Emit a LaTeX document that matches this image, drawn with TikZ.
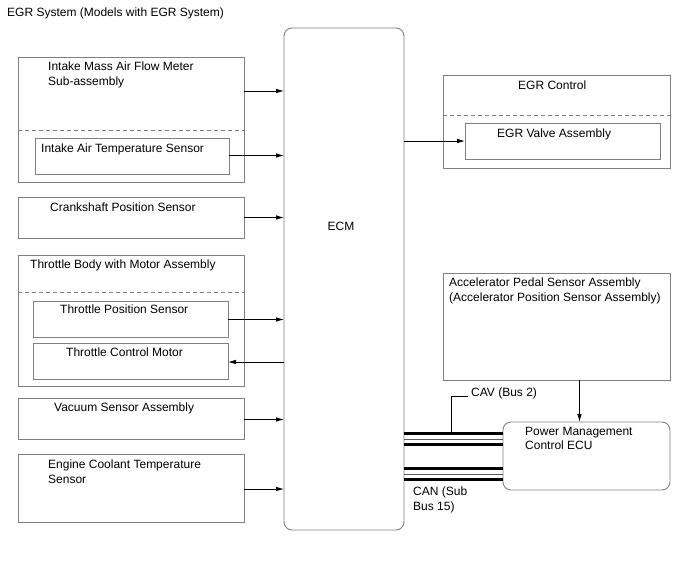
\documentclass[tikz,border=0pt]{standalone}
\usepackage{fontspec}
\setmainfont{Liberation Sans}
\usetikzlibrary{arrows.meta,positioning}
\definecolor{boxgray}{RGB}{128,128,128}
\definecolor{dashgray}{RGB}{125,125,125}
\definecolor{busgray}{RGB}{90,90,90}

\tikzset{
  box/.style={rectangle, draw=boxgray, line width=0.9pt, anchor=north west,
              inner sep=0pt, outer sep=0pt},
  rbox/.style={box, rounded corners=8pt},
  lbl/.style={anchor=north west, inner sep=0pt, align=left},
  sepline/.style={draw=dashgray, line width=0.9pt, dash pattern=on 4pt off 3pt},
  sig/.style={-{Latex[length=8pt,width=4.5pt]}, line width=0.8pt, black},
  busthick/.style={line width=3.4pt, black},
  busthin/.style={line width=1pt, busgray}
}

\begin{document}
\begin{tikzpicture}[x=1pt, y=-1pt, font=\fontsize{12}{14.2}\selectfont]
  \useasboundingbox (0,0) rectangle (688,560);

  \node[lbl] (title) at (7,8) {EGR System (Models with EGR System)};

  % ECM
  \node[rbox, minimum width=120, minimum height=502] (ecm) at (284,28) {};
  \node (ecmlbl) at (341,226) {ECM};

  % inputs on the left
  \node[box, minimum width=226, minimum height=125] (maf) at (18,57) {};
  \node[lbl] (maflbl) at (48,62) {Intake Mass Air Flow Meter\\Sub-assembly};
  \draw[sepline] (maf.west |- 0,130) -- (maf.east |- 0,130);
  \node[box, minimum width=194, minimum height=36] (iat) at (35,138) {};
  \node[lbl] (iatlbl) at (41,144) {Intake Air Temperature Sensor};

  \node[box, minimum width=226, minimum height=41] (ckp) at (18,197) {};
  \node[lbl] (ckplbl) at (50,203) {Crankshaft Position Sensor};

  \node[box, minimum width=226, minimum height=131] (thr) at (18,255) {};
  \node[lbl] (thrlbl) at (30,260) {Throttle Body with Motor Assembly};
  \draw[sepline] (thr.west |- 0,292.5) -- (thr.east |- 0,292.5);
  \node[box, minimum width=195, minimum height=36] (tps) at (33,301) {};
  \node[lbl] (tpslbl) at (60,305) {Throttle Position Sensor};
  \node[box, minimum width=195, minimum height=36] (tcm) at (33,343) {};
  \node[lbl] (tcmlbl) at (66,348) {Throttle Control Motor};

  \node[box, minimum width=226, minimum height=41] (vac) at (18,398.5) {};
  \node[lbl] (vaclbl) at (54,403) {Vacuum Sensor Assembly};

  \node[box, minimum width=226, minimum height=68] (ect) at (18,454.5) {};
  \node[lbl] (ectlbl) at (48,460) {Engine Coolant Temperature\\Sensor};

  \draw[sig] (maf.east |- 0,91) -- (ecm.west |- 0,91);
  \draw[sig] (iat.east |- 0,155.5) -- (ecm.west |- 0,155.5);
  \draw[sig] (ckp.east |- 0,217.5) -- (ecm.west |- 0,217.5);
  \draw[sig] (tps.east |- 0,319.5) -- (ecm.west |- 0,319.5);
  \draw[sig] (ecm.west |- 0,362) -- (tcm.east |- 0,362);
  \draw[sig] (vac.east |- 0,419.5) -- (ecm.west |- 0,419.5);
  \draw[sig] (ect.east |- 0,489) -- (ecm.west |- 0,489);

  % EGR control on the right
  \node[box, minimum width=227, minimum height=93] (egr) at (443,75) {};
  \node[lbl] (egrlbl) at (518,81) {EGR Control};
  \draw[sepline] (egr.west |- 0,115.5) -- (egr.east |- 0,115.5);
  \node[box, minimum width=195, minimum height=36] (egrv) at (465,123.5) {};
  \node[lbl] (egrvlbl) at (497,129) {EGR Valve Assembly};
  \draw[sig] (ecm.east |- 0,141) -- (egrv.west |- 0,141);

  % accelerator pedal and power management ECU
  \node[box, minimum width=227, minimum height=107] (app) at (443,273) {};
  \node[lbl] (applbl) at (449,278)
    {Accelerator Pedal Sensor Assembly\\(Accelerator Position Sensor Assembly)};
  \node[rbox, minimum width=167, minimum height=68] (ecu) at (503,422) {};
  \node[lbl] (eculbl) at (525,427) {Power Management\\Control ECU};
  \draw[sig] (app.south -| 579.5,0) -- (ecu.north -| 579.5,0);

  % buses
  \foreach \y in {433.5,468.5} {
    \draw[busthick] (ecm.east |- 0,\y) -- (ecu.west |- 0,\y);
    \draw[busthin] (ecm.east |- 0,\y+5.5) -- (ecu.west |- 0,\y+5.5);
    \draw[busthick] (ecm.east |- 0,\y+11) -- (ecu.west |- 0,\y+11);
  }
  \node[lbl] (cav) at (471,388) {CAV (Bus 2)};
  \coordinate (cavtap) at (451,433.5);
  \draw[line width=0.9pt] (cavtap) |- ([xshift=-3pt]cav.base west);
  \node[lbl] (can) at (413,487) {CAN (Sub\\Bus 15)};
\end{tikzpicture}
\end{document}
